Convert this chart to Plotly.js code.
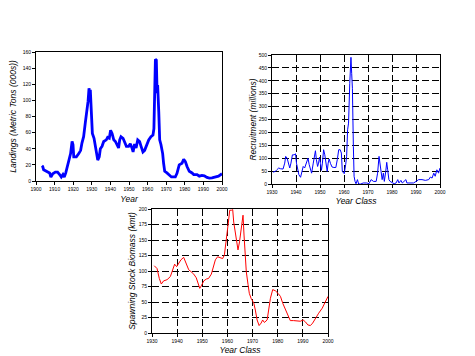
<!DOCTYPE html>
<html>
<head>
<meta charset="utf-8">
<script src="https://cdn.plot.ly/plotly-3.0.1.min.js"></script>
<style>
html,body{margin:0;padding:0;background:#fff;}
#chart{width:475px;height:356px;}
</style>
</head>
<body>
<div id="chart"></div>
<script>
// ---- Landings (Metric Tons (000s)) by Year ----
var landYears = [1903.2,1903.6,1904.1,1905.9,1907.3,1908.0,1909.0,1910.4,1911.6,1912.7,1913.6,1914.5,1915.2,1916.0,1917.0,1918.0,1918.6,1919.4,1919.9,1920.3,1921.7,1923.0,1924.0,1924.7,1925.6,1926.5,1927.4,1928.0,1928.5,1928.9,1929.2,1929.7,1930.3,1931.2,1932.3,1933.2,1934.0,1934.6,1935.5,1936.4,1937.8,1938.5,1939.4,1940.1,1940.9,1941.8,1942.7,1943.5,1944.4,1945.0,1945.7,1946.8,1947.7,1948.6,1949.8,1950.7,1951.6,1952.2,1953.0,1953.8,1954.7,1955.7,1956.5,1957.5,1958.4,1959.7,1960.6,1961.8,1962.9,1963.4,1963.8,1964.2,1964.7,1965.1,1965.4,1966.0,1966.5,1967.2,1968.1,1968.6,1969.2,1970.4,1971.7,1972.8,1974.9,1975.8,1977.0,1977.6,1978.5,1979.4,1980.3,1981.2,1982.4,1983.9,1984.8,1986.6,1987.8,1989.2,1990.5,1991.9,1993.2,1994.6,1996.3,1998.1,2000.0];
var landValues = [19,18,14,12,10,5,9,11,11,8,5,8,5,10,18,26,34,49,45,30,30,34,38,47,55,72,88,99,115,107,113,84,59,53,38,26,30,40,43,49,51,54,53,63,59,51,49,44,41,51,55,53,47,43,43,46,41,36,46,41,51,49,43,36,38,45,51,55,57,65,109,151,150,109,119,86,51,45,34,22,12,10,7,5,5,9.5,20,21,22,27,24,18,12,10,8,8,6,7,6.5,4.5,3.7,4,5.4,6,9];

// ---- Recruitment (millions) by Year Class ----
var recYears = [1930.4,1931.4,1932.0,1932.8,1933.6,1934.6,1935.3,1935.7,1936.3,1936.8,1937.4,1937.9,1938.5,1939.2,1939.8,1940.2,1940.6,1941.2,1941.9,1942.4,1943.0,1943.6,1944.1,1944.6,1945.0,1945.5,1946.0,1946.5,1947.2,1947.7,1948.1,1948.5,1949.0,1949.4,1949.8,1950.2,1950.6,1951.0,1951.5,1952.0,1952.4,1953.0,1953.4,1953.8,1954.4,1955.0,1955.8,1956.6,1957.2,1957.8,1958.4,1958.9,1959.3,1959.7,1960.1,1960.7,1961.1,1961.5,1961.9,1962.4,1962.6,1962.9,1963.2,1963.5,1963.9,1964.2,1964.6,1965.0,1965.6,1966.1,1967.0,1968.0,1969.5,1970.4,1971.3,1972.3,1973.4,1974.0,1974.6,1975.0,1975.5,1975.9,1976.4,1976.8,1977.4,1977.8,1978.2,1978.7,1979.2,1979.9,1980.9,1981.7,1982.4,1982.9,1983.7,1984.3,1985.1,1985.8,1986.2,1987.6,1989.0,1990.0,1991.1,1992.5,1993.9,1995.3,1996.0,1996.7,1997.4,1998.0,1998.7,1999.4,2000.0];
var recValues = [46,49,55,62,59,58,81,107,100,81,62,81,113,113,117,81,55,36,26,49,68,62,75,94,100,75,62,42,81,107,129,94,68,81,104,79,53,81,133,113,84,49,81,97,79,66,64,64,94,133,133,120,49,42,40,75,107,210,236,390,435,491,429,371,146,30,10,1,17,0,0,4,4,1,17,10,10,42,107,81,55,17,42,10,49,84,55,17,10,6,1,4,17,4,14,4,10,17,4,4,4,10,17,17,14,17,27,23,42,30,55,42,62];

// ---- Spawning Stock Biomass (kmt) by Year Class ----
var ssbYears = [1930.9,1932.0,1932.9,1933.7,1934.6,1936.0,1937.3,1938.4,1939.0,1939.8,1940.6,1941.5,1942.6,1943.7,1944.6,1945.5,1946.6,1947.6,1948.3,1949.0,1949.6,1950.6,1951.6,1952.5,1953.6,1954.5,1955.2,1956.1,1957.2,1958.1,1958.8,1959.4,1960.0,1960.4,1960.9,1961.6,1962.1,1962.5,1963.2,1963.8,1964.2,1964.8,1965.3,1965.8,1966.2,1966.6,1967.0,1967.5,1968.2,1968.7,1969.4,1970.5,1971.1,1971.8,1972.6,1973.4,1974.0,1974.7,1975.8,1976.4,1977.1,1978.0,1979.1,1980.1,1981.1,1982.0,1983.1,1984.0,1985.0,1986.3,1987.7,1989.0,1990.1,1991.0,1992.0,1993.0,1993.9,1995.0,1996.3,1997.7,1999.0,2000.0];
var ssbValues = [108.5,104,88,79,84,86,91,102,111,107,112,118,122,110,102,99,95,89,82,72,76,84,87,88,95,110,118,123,121,120,126,142,166,179,198,198,199,179,158,142,134,147,166,182,190,158,128,99,78,64,56,48,37,21,12,16,21,17,21,37,56,70,68,64,59,48,37,29,20,20,19,19,21,18,13,12,16,24,32,40,51,59];

var FONT = 'Liberation Sans, Arial, sans-serif';
var tickFont = {family: FONT, size: 5, color: '#000'};
var titleFont = {family: FONT, size: 8.5, color: '#000', style: 'italic'};

function axisBase(extra) {
  var a = {
    showline: true, mirror: true, linecolor: '#000', linewidth: 1,
    ticks: 'outside', ticklen: 3, tickwidth: 1, tickcolor: '#000',
    tickfont: tickFont, zeroline: false, showgrid: false, fixedrange: true
  };
  for (var k in extra) a[k] = extra[k];
  return a;
}
var gridStyle = {showgrid: true, gridcolor: '#000', gridwidth: 1, griddash: '7px,3px'};
function merge(a, b) { var o = {}; for (var k in a) o[k] = a[k]; for (var k2 in b) o[k2] = b[k2]; return o; }

var traces = [
  {x: landYears, y: landValues, type: 'scatter', mode: 'lines', xaxis: 'x', yaxis: 'y',
   line: {color: '#0000ff', width: 2.8}, hoverinfo: 'skip'},
  {x: recYears, y: recValues, type: 'scatter', mode: 'lines', xaxis: 'x2', yaxis: 'y2',
   line: {color: '#0000ff', width: 1}, hoverinfo: 'skip'},
  {x: ssbYears, y: ssbValues, type: 'scatter', mode: 'lines', xaxis: 'x3', yaxis: 'y3',
   line: {color: '#ff0000', width: 1}, hoverinfo: 'skip'}
];

var W = 475, H = 356;
function dx(a, b) { return [a / W, b / W]; }
function dy(top, bottom) { return [1 - bottom / H, 1 - top / H]; }

var layout = {
  width: W, height: H,
  margin: {l: 0, r: 0, t: 0, b: 0},
  paper_bgcolor: '#fff', plot_bgcolor: '#fff',
  showlegend: false,
  xaxis: axisBase({domain: dx(36, 222), range: [1900, 2000], dtick: 10, tick0: 1900, anchor: 'y',
    title: {text: 'Year', font: titleFont, standoff: 5}}),
  yaxis: axisBase({domain: dy(52, 181), range: [0, 160], dtick: 20, anchor: 'x',
    title: {text: 'Landings (Metric Tons (000s))', font: titleFont, standoff: 4}}),
  xaxis2: axisBase(merge(gridStyle, {domain: dx(272, 440), range: [1930, 2000], dtick: 10, tick0: 1930, anchor: 'y2',
    title: {text: 'Year Class', font: titleFont, standoff: 4}})),
  yaxis2: axisBase(merge(gridStyle, {domain: dy(55, 184), range: [0, 500], dtick: 50, anchor: 'x2',
    title: {text: 'Recruitment (millions)', font: titleFont, standoff: 0}})),
  xaxis3: axisBase(merge(gridStyle, {domain: dx(152, 328), range: [1930, 2000], dtick: 10, tick0: 1930, anchor: 'y3',
    title: {text: 'Year Class', font: titleFont, standoff: 4}})),
  yaxis3: axisBase(merge(gridStyle, {domain: dy(209, 333), range: [0, 200], dtick: 25, anchor: 'x3',
    title: {text: 'Spawning Stock Biomass (kmt)', font: titleFont, standoff: 1}}))
};

Plotly.newPlot('chart', traces, layout, {staticPlot: true, displayModeBar: false});
</script>
</body>
</html>
